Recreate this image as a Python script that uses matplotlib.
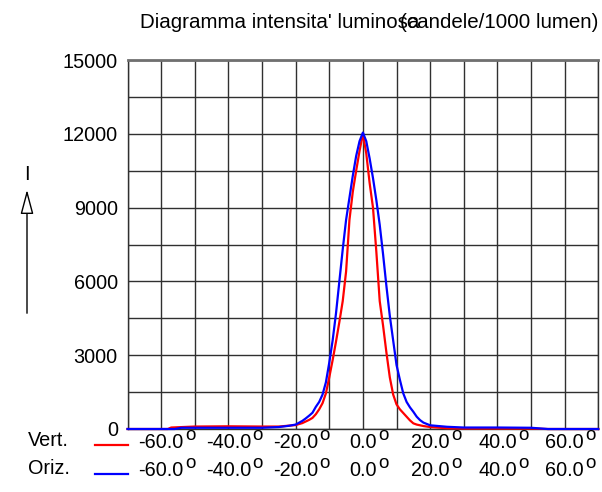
import matplotlib
matplotlib.use("Agg")
import matplotlib.pyplot as plt
from matplotlib.lines import Line2D
from matplotlib.patches import FancyArrowPatch
import matplotlib.transforms as mtransforms

# angles in degrees, intensity in cd/1000 lm
vert_deg = [-70, -58, -57, -50, -40, -30, -25, -20, -18, -16, -15, -14, -13, -12, -11,
            -10, -9, -8, -7, -6, -5, -4, -3, -2, -1, 0, 1, 2, 3, 4, 5, 6, 7, 8, 9,
            10, 11, 12, 13, 14, 15, 16, 18, 20, 25, 30, 50, 55, 70]
vert_val = [0, 0, 60, 100, 110, 100, 100, 160, 240, 370, 450, 600, 800, 1050, 1450,
            2100, 2800, 3550, 4350, 5200, 6400, 8500, 9650, 10500, 11300, 12000, 11200,
            10000, 9000, 7200, 5200, 4200, 3100, 2100, 1400, 1000, 800, 650, 500, 350,
            230, 180, 120, 80, 30, 20, 20, 0, 0]

oriz_deg = [-70, -56, -54, -30, -25, -22, -20, -18, -17, -16, -15, -14, -13, -12, -11,
            -10, -9, -8, -7, -6, -5, -4, -3, -2, -1, 0, 1, 2, 3, 4, 5, 6, 7, 8, 9,
            10, 11, 12, 13, 14, 15, 16, 17, 18, 20, 25, 30, 40, 50, 55, 70]
oriz_val = [0, 0, 50, 50, 80, 130, 180, 330, 430, 540, 660, 900, 1100, 1400, 1900,
            2700, 3600, 4700, 6000, 7300, 8500, 9400, 10300, 11100, 11700, 12050, 11700,
            11000, 10200, 9300, 8300, 7100, 5800, 4600, 3600, 2600, 2000, 1450, 1100,
            880, 700, 500, 360, 260, 150, 90, 60, 60, 50, 0, 0]

x_ticks = [-60, -40, -20, 0, 20, 40, 60]
y_ticks = [0, 3000, 6000, 9000, 12000, 15000]

plt.rcParams["font.family"] = ["Liberation Sans", "DejaVu Sans"]
FS = 14.3
W, H = 602, 492

fig = plt.figure(figsize=(W / 100, H / 100), dpi=100)
ax = fig.add_axes([127.5 / W, 1 - 429 / H, (598.3 - 127.5) / W, (429 - 60) / H])
ax.set_xlim(-70, 70)
ax.set_ylim(0, 15000)

ax.set_xticks(range(-70, 71, 10))
ax.set_xticklabels([])
ax.set_yticks(range(0, 15001, 1500))
ax.set_yticklabels([str(v) if v in y_ticks else "" for v in range(0, 15001, 1500)],
                   fontsize=FS)
ax.tick_params(length=0, pad=7)
ax.grid(True, color="#303030", lw=1)
ax.set_axisbelow(True)
for s in ax.spines.values():
    s.set_color("#303030"); s.set_linewidth(1)
ax.spines["top"].set_color("#707070"); ax.spines["top"].set_linewidth(2)

ax.plot(vert_deg, vert_val, color="#ff0000", lw=1.6, clip_on=False, zorder=3)
ax.plot(oriz_deg, oriz_val, color="#0000ff", lw=1.6, clip_on=False, zorder=3)

# degree labels under the plot, one row per curve
tr = mtransforms.blended_transform_factory(ax.transData, fig.transFigure)
for ypx in (442, 470):
    for d in x_ticks:
        t = ax.text(d, 1 - ypx / H, f"{d:.1f}", transform=tr, ha="center",
                    va="center", fontsize=FS)
        ax.annotate("o", xy=(1, 1), xycoords=t, xytext=(1, 4), textcoords="offset points",
                    ha="left", va="top", fontsize=13.5)

fig.text(28 / W, 1 - 440 / H, "Vert.", ha="left", va="center", fontsize=FS)
fig.text(28 / W, 1 - 468 / H, "Oriz.", ha="left", va="center", fontsize=FS)
fig.add_artist(Line2D([95 / W, 128 / W], [1 - 445 / H] * 2, color="#ff0000", lw=1.6))
fig.add_artist(Line2D([95 / W, 128 / W], [1 - 474 / H] * 2, color="#0000ff", lw=1.6))

fig.text(140 / W, 1 - 22 / H, "Diagramma intensita' luminosa", ha="left", va="center",
         fontsize=14.8)
fig.text(598 / W, 1 - 22 / H, "(candele/1000 lumen)", ha="right", va="center",
         fontsize=14.8)

# vertical "I" arrow on the left
fig.text(27 / W, 1 - 175 / H, "I", ha="center", va="center", fontsize=FS)
fig.add_artist(FancyArrowPatch((27 / W, 1 - 316 / H), (27 / W, 1 - 187 / H),
                               transform=fig.transFigure,
                               arrowstyle="-|>,head_length=0.75,head_width=0.2",
                               mutation_scale=20, fc="white", ec="black", lw=1))

fig.savefig("out.png", dpi=100)
